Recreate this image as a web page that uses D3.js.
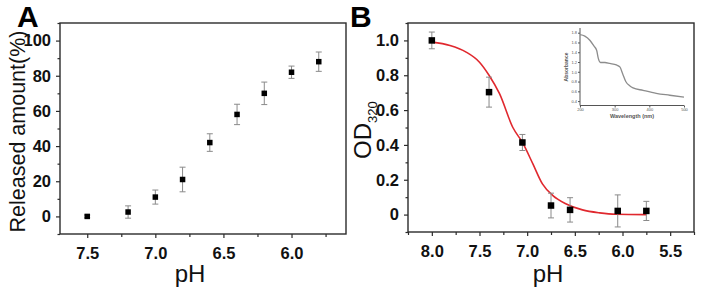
<!DOCTYPE html>
<html>
<head>
<meta charset="utf-8">
<script src="https://cdn.jsdelivr.net/npm/d3@7"></script>
<style>
  body { margin: 0; background: #fff; }
  svg { display: block; font-family: Arial, "Liberation Sans", sans-serif; }
</style>
</head>
<body>
<svg id="chart" width="701" height="292"></svg>
<script>
// Panel A: released amount vs pH
const phA = [7.5, 7.2, 7.0, 6.8, 6.6, 6.4, 6.2, 6.0, 5.8];
const releasedA = [0, 2.5, 11, 21, 42, 58, 70, 82, 88];
const errA = [0.8, 3.5, 4, 7, 5, 5.8, 6.4, 3.5, 5.5];
const xTicksA = [7.5, 7.0, 6.5, 6.0];
const yTicksA = [0, 20, 40, 60, 80, 100];

// Panel B: OD320 vs pH, with fitted curve
const phB = [8.0, 7.4, 7.05, 6.75, 6.55, 6.05, 5.75];
const odB = [1.0, 0.703, 0.414, 0.052, 0.027, 0.021, 0.021];
const errB = [0.048, 0.086, 0.046, 0.071, 0.07, 0.092, 0.055];
const fitPh = [8.0, 7.81, 7.64, 7.5, 7.4, 7.29, 7.15, 7.045, 6.94, 6.84, 6.73, 6.59, 6.42, 6.24, 6.07, 5.75];
const fitOd = [0.99, 0.971, 0.933, 0.875, 0.8, 0.694, 0.5, 0.41, 0.291, 0.176, 0.109, 0.061, 0.027, 0.01, 0.002, 0.0];
const xTicksB = [8.0, 7.5, 7.0, 6.5, 6.0, 5.5];
const yTicksB = [0, 0.2, 0.4, 0.6, 0.8, 1.0];

// Inset: absorbance spectrum
const wavelength = [200, 214, 229, 240, 248, 253, 259, 272, 286, 305, 315, 323, 332, 344, 353, 382, 420, 459, 500];
const absorbance = [1.76, 1.73, 1.64, 1.53, 1.44, 1.27, 1.19, 1.19, 1.17, 1.14, 1.10, 0.96, 0.80, 0.71, 0.67, 0.62, 0.56, 0.52, 0.48];
const insetXTicks = [200, 300, 400, 500];
const insetYTicks = [0.4, 0.6, 0.8, 1.0, 1.2, 1.4, 1.6, 1.8];

const svg = d3.select("#chart");
const axisColor = "#2b2b2b";

function drawPanel(cfg) {
  const g = svg.append("g");
  const x = d3.scaleLinear().domain(cfg.xDomain).range([cfg.left, cfg.right]);
  const y = d3.scaleLinear().domain(cfg.yDomain).range([cfg.bottom, cfg.top]);

  // minor ticks
  g.append("g")
    .attr("transform", `translate(0,${cfg.bottom})`)
    .call(d3.axisBottom(x).tickValues(cfg.xMinor).tickSize(3).tickFormat(""))
    .call(a => a.select(".domain").remove());
  g.append("g")
    .attr("transform", `translate(${cfg.left},0)`)
    .call(d3.axisLeft(y).tickValues(cfg.yMinor).tickSize(2.5).tickFormat(""))
    .call(a => a.select(".domain").remove());

  // major ticks + labels
  const xAxisG = g.append("g")
    .attr("transform", `translate(0,${cfg.bottom})`)
    .call(d3.axisBottom(x).tickValues(cfg.xTicks).tickSize(4).tickPadding(9).tickFormat(d3.format(".1f")));
  const yAxisG = g.append("g")
    .attr("transform", `translate(${cfg.left},0)`)
    .call(d3.axisLeft(y).tickValues(cfg.yTicks).tickSize(4).tickPadding(5).tickFormat(cfg.yFormat));

  [xAxisG, yAxisG].forEach(a => {
    a.select(".domain").remove();
    a.selectAll("text").attr("font-size", 16.5).attr("font-weight", "bold")
      .attr("font-family", "Arial, 'Liberation Sans', sans-serif").attr("fill", "#111");
  });
  g.selectAll(".tick line").attr("stroke", axisColor).attr("stroke-width", 1.2);

  // frame
  g.append("rect")
    .attr("x", cfg.left).attr("y", cfg.top)
    .attr("width", cfg.right - cfg.left).attr("height", cfg.bottom - cfg.top)
    .attr("fill", "none").attr("stroke", axisColor).attr("stroke-width", 1.4);

  return { g, x, y };
}

function drawPoints(p, xs, ys, errs, size) {
  const pts = xs.map((d, i) => ({ x: d, y: ys[i], e: errs[i] }));
  const eb = p.g.append("g").attr("stroke", "#8a8a8a").attr("stroke-width", 1);
  eb.selectAll("line.bar").data(pts).join("line").attr("class", "bar")
    .attr("x1", d => p.x(d.x)).attr("x2", d => p.x(d.x))
    .attr("y1", d => p.y(d.y - d.e)).attr("y2", d => p.y(d.y + d.e));
  [-1, 1].forEach(s => {
    eb.selectAll(`line.cap${s}`).data(pts).join("line").attr("class", `cap${s}`)
      .attr("x1", d => p.x(d.x) - 3).attr("x2", d => p.x(d.x) + 3)
      .attr("y1", d => p.y(d.y + s * d.e)).attr("y2", d => p.y(d.y + s * d.e));
  });
  p.g.append("g").selectAll("rect").data(pts).join("rect")
    .attr("x", d => p.x(d.x) - size / 2).attr("y", d => p.y(d.y) - size / 2)
    .attr("width", size).attr("height", size).attr("fill", "#000");
}

// ---- Panel A
const pA = drawPanel({
  left: 60, right: 346, top: 23, bottom: 234,
  xDomain: [7.7, 5.6], yDomain: [-10, 110],
  xTicks: xTicksA, yTicks: yTicksA,
  xMinor: [7.25, 6.75, 6.25, 5.75], yMinor: [-10, 10, 30, 50, 70, 90, 110],
  yFormat: d3.format("d")
});
drawPoints(pA, phA, releasedA, errA, 5.5);

svg.append("text").attr("x", 17).attr("y", 27)
  .attr("font-size", 30).attr("font-weight", "bold").text("A");
svg.append("text")
  .attr("transform", "translate(25,131.5) rotate(-90)")
  .attr("text-anchor", "middle").attr("font-size", 21.5).attr("fill", "#111")
  .text("Released amount(%)");
svg.append("text").attr("x", 190).attr("y", 282)
  .attr("text-anchor", "middle").attr("font-size", 24).attr("fill", "#111").text("pH");

// ---- Panel B
const pB = drawPanel({
  left: 408, right: 694, top: 23, bottom: 232,
  xDomain: [8.25, 5.25], yDomain: [-0.1, 1.1],
  xTicks: xTicksB, yTicks: yTicksB,
  xMinor: [8.25, 7.75, 7.25, 6.75, 6.25, 5.75, 5.25], yMinor: [-0.1, 0.1, 0.3, 0.5, 0.7, 0.9, 1.1],
  yFormat: d => d === 0 ? "0" : d3.format(".1f")(d)
});

const fitLine = d3.line()
  .x((d, i) => pB.x(fitPh[i]))
  .y(d => pB.y(d))
  .curve(d3.curveMonotoneX);
pB.g.append("path")
  .attr("d", fitLine(fitOd))
  .attr("fill", "none").attr("stroke", "#e0282e").attr("stroke-width", 1.6);

drawPoints(pB, phB, odB, errB, 6.5);

svg.append("text").attr("x", 350).attr("y", 27)
  .attr("font-size", 30).attr("font-weight", "bold").text("B");
const odLabel = svg.append("text")
  .attr("transform", "translate(371,159) rotate(-90)")
  .attr("font-size", 24).attr("fill", "#111");
odLabel.append("tspan").text("OD");
odLabel.append("tspan").attr("font-size", 13).attr("dy", 6).text("320");
svg.append("text").attr("x", 548).attr("y", 282)
  .attr("text-anchor", "middle").attr("font-size", 24).attr("fill", "#111").text("pH");

// ---- Inset spectrum
const ix = d3.scaleLinear().domain([200, 500]).range([580, 684]);
const iy = d3.scaleLinear().domain([0.31, 1.855]).range([105.5, 30]);
const inset = svg.append("g").attr("color", "#555");
const ixAxis = inset.append("g").attr("transform", "translate(0,105.5)")
  .call(d3.axisBottom(ix).tickValues(insetXTicks).tickSize(2).tickPadding(1).tickFormat(d3.format("d")));
const iyAxis = inset.append("g").attr("transform", "translate(580,0)")
  .call(d3.axisLeft(iy).tickValues(insetYTicks).tickSize(2).tickPadding(1).tickFormat(d3.format(".1f")));
[ixAxis, iyAxis].forEach(a => {
  a.select(".domain").attr("d", a === ixAxis ? "M580,0H684" : "M0,28V105.5").attr("stroke-width", 1);
  a.selectAll("text").attr("font-size", 4).attr("fill", "#555").attr("font-family", "Arial, sans-serif");
});
inset.append("path")
  .attr("d", d3.line().x((d, i) => ix(wavelength[i])).y(d => iy(d)).curve(d3.curveMonotoneX)(absorbance))
  .attr("fill", "none").attr("stroke", "#8c8c8c").attr("stroke-width", 1.3);
inset.append("text")
  .attr("transform", "translate(568,67) rotate(-90)")
  .attr("text-anchor", "middle").attr("font-size", 5).attr("font-weight", "bold").attr("fill", "#555")
  .text("Absorbance");
inset.append("text").attr("x", 632).attr("y", 118)
  .attr("text-anchor", "middle").attr("font-size", 5.5).attr("font-weight", "bold").attr("fill", "#555")
  .text("Wavelength (nm)");
</script>
</body>
</html>
